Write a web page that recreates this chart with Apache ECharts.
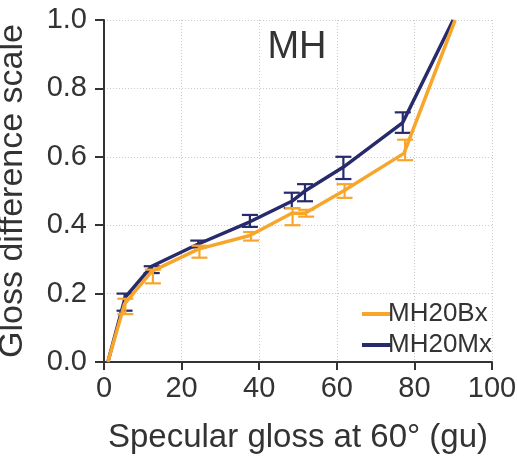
<!DOCTYPE html>
<html>
<head>
<meta charset="utf-8">
<script src="https://cdn.jsdelivr.net/npm/echarts@6/dist/echarts.min.js"></script>
<style>
html,body{margin:0;padding:0;background:#fff;}
#chart{width:517px;height:456px;}
</style>
</head>
<body>
<div id="chart"></div>
<script>
// ---- data ----
const seriesNames = ['MH20Bx', 'MH20Mx'];
const xTickValues = [0, 20, 40, 60, 80, 100];
const yTickValues = [0.0, 0.2, 0.4, 0.6, 0.8, 1.0];

// MH20Mx (navy) line
const mxX = [1, 5.5, 12.3, 24.3, 37.6, 48.4, 51.8, 61.7, 77.0, 90.0];
const mxY = [0, 0.19, 0.28, 0.345, 0.41, 0.47, 0.50, 0.57, 0.70, 1.0];
// MH20Bx (orange) line
const bxX = [1, 5.3, 12.3, 24.3, 37.6, 48.4, 51.8, 61.7, 77.3, 90.5];
const bxY = [0, 0.17, 0.265, 0.33, 0.37, 0.435, 0.435, 0.50, 0.61, 1.0];

// error bars
const mxErrX = [5.3, 12.3, 24.3, 37.6, 48.4, 51.8, 61.7, 77.0];
const mxLow  = [0.15, 0.26, 0.335, 0.395, 0.45, 0.47, 0.535, 0.67];
const mxHigh = [0.20, 0.28, 0.355, 0.43, 0.495, 0.52, 0.60, 0.73];
const bxErrX = [5.5, 12.6, 24.6, 37.9, 48.6, 52.1, 62.0, 77.6];
const bxLow  = [0.14, 0.23, 0.305, 0.355, 0.40, 0.425, 0.48, 0.59];
const bxHigh = [0.185, 0.27, 0.34, 0.38, 0.45, 0.445, 0.52, 0.65];

const NAVY = '#272b6c';
const ORANGE = '#f8a62b';
const TEXT = '#333333';
const FONT = "'Liberation Sans', Arial, Helvetica, sans-serif";

function zip(xs, ys) { return xs.map((x, i) => [x, ys[i]]); }
function errData(xs, lo, hi) { return xs.map((x, i) => [x, lo[i], hi[i]]); }

function errRender(color) {
  return function (params, api) {
    const x = api.value(0);
    const top = api.coord([x, api.value(2)]);
    const bot = api.coord([x, api.value(1)]);
    const hw = 8;
    const style = { stroke: color, lineWidth: 2.2, fill: null };
    return {
      type: 'group',
      children: [
        { type: 'line', shape: { x1: top[0], y1: top[1], x2: bot[0], y2: bot[1] }, style: style },
        { type: 'line', shape: { x1: top[0] - hw, y1: top[1], x2: top[0] + hw, y2: top[1] }, style: style },
        { type: 'line', shape: { x1: bot[0] - hw, y1: bot[1], x2: bot[0] + hw, y2: bot[1] }, style: style }
      ]
    };
  };
}

const chart = echarts.init(document.getElementById('chart'), null, { renderer: 'canvas' });
const axisLine = { show: true, lineStyle: { color: '#333', width: 2 } };
const split = { show: true, lineStyle: { color: '#cccccc', type: [1, 2], width: 1 } };

chart.setOption({
  animation: false,
  backgroundColor: '#fff',
  textStyle: { fontFamily: FONT },
  title: {
    text: 'MH',
    left: 292, top: 24,
    textAlign: 'center',
    textStyle: { fontFamily: FONT, fontSize: 38, fontWeight: 'normal', color: TEXT }
  },
  grid: { left: 104, right: 25, top: 20, bottom: 94, containLabel: false, outerBoundsMode: 'none' },
  legend: {
    data: seriesNames.map(n => ({ name: n, icon: 'rect' })),
    orient: 'vertical',
    left: 357, top: 296,
    itemWidth: 29, itemHeight: 4, itemGap: 5,
    textStyle: { fontFamily: FONT, fontSize: 26, color: TEXT, padding: [0, 0, 0, -8] },
    selectedMode: false
  },
  xAxis: {
    type: 'value',
    min: xTickValues[0], max: xTickValues[xTickValues.length - 1], interval: 20,
    name: 'Specular gloss at 60\u00b0 (gu)',
    nameLocation: 'middle', nameGap: 59,
    nameTextStyle: { fontFamily: FONT, fontSize: 33, color: TEXT },
    axisLine: axisLine,
    axisTick: { show: true, length: 8, lineStyle: { color: '#333', width: 2 } },
    axisLabel: { fontFamily: FONT, fontSize: 29, color: TEXT, margin: 12 },
    splitLine: split
  },
  yAxis: {
    type: 'value',
    min: yTickValues[0], max: yTickValues[yTickValues.length - 1], interval: 0.2,
    name: 'Gloss difference scale',
    nameLocation: 'middle', nameGap: 74,
    nameTextStyle: { fontFamily: FONT, fontSize: 34, color: TEXT },
    axisLine: axisLine,
    axisTick: { show: true, length: 9, lineStyle: { color: '#333', width: 2 } },
    axisLabel: { fontFamily: FONT, fontSize: 29, color: TEXT, margin: 17, formatter: v => v.toFixed(1) },
    splitLine: split
  },
  series: [
    {
      name: 'MH20Mx', type: 'line', data: zip(mxX, mxY),
      symbol: 'none', lineStyle: { color: NAVY, width: 3.5 }, itemStyle: { color: NAVY }, z: 3
    },
    {
      name: 'MH20Mx err', type: 'custom', data: errData(mxErrX, mxLow, mxHigh),
      renderItem: errRender(NAVY), encode: { x: 0, y: [1, 2] }, z: 3
    },
    {
      name: 'MH20Bx', type: 'line', data: zip(bxX, bxY),
      symbol: 'none', lineStyle: { color: ORANGE, width: 3.5 }, itemStyle: { color: ORANGE }, z: 4
    },
    {
      name: 'MH20Bx err', type: 'custom', data: errData(bxErrX, bxLow, bxHigh),
      renderItem: errRender(ORANGE), encode: { x: 0, y: [1, 2] }, z: 4
    }
  ]
});
</script>
</body>
</html>
